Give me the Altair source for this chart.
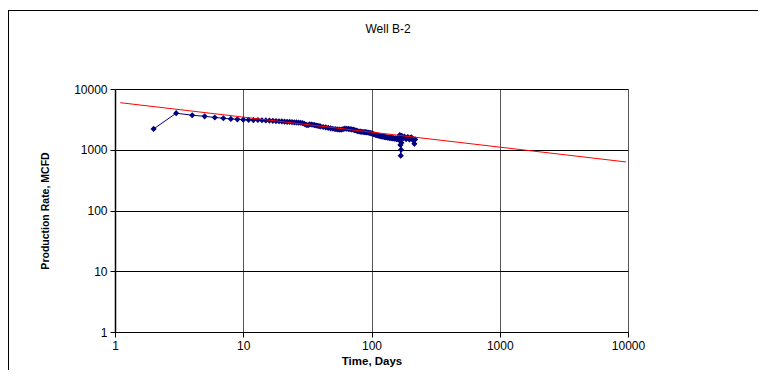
import altair as alt
import pandas as pd

# ---- data ----
days = [2, 3, 4, 5, 6, 7, 8, 9, 10,
        11, 12, 13, 14, 15, 16, 17, 18, 19, 20,
        21, 22, 23, 24, 25, 26, 27, 28, 29, 30,
        31, 32, 33, 34, 35, 36, 37, 38, 39, 40,
        42, 44, 46, 48, 50, 52, 54, 56, 58, 60,
        62, 64, 66, 68, 70, 72, 74, 76, 78, 80,
        82, 84, 86, 88, 90, 92, 94, 96, 98, 100,
        102, 104, 106, 108, 110, 112, 114, 116, 118, 120,
        122, 124, 126, 128, 130, 132, 134, 136, 138, 140,
        142, 144, 146, 148, 150, 152, 154, 156, 158, 160,
        162, 164, 165, 166, 167, 168, 169, 170, 171, 172,
        174, 177, 180, 183, 186, 189, 192, 195, 198, 201,
        204, 207, 210, 213, 216, 219]
rates = [2200, 4000, 3700, 3550, 3400, 3300, 3220, 3170, 3130,
         3110, 3080, 3090, 3060, 3040, 3020, 2990, 2960, 2950, 2930,
         2900, 2880, 2870, 2850, 2830, 2820, 2790, 2780, 2740, 2660,
         2560, 2540, 2620, 2600, 2580, 2550, 2510, 2480, 2450, 2420,
         2370, 2330, 2290, 2250, 2220, 2190, 2170, 2150, 2140, 2180,
         2230, 2220, 2200, 2190, 2170, 2140, 2100, 2060, 2030, 2000,
         1990, 1970, 1960, 1950, 1950, 1930, 1920, 1900, 1880, 1860,
         1840, 1800, 1780, 1760, 1740, 1720, 1700, 1690, 1670, 1660,
         1640, 1650, 1620, 1610, 1620, 1590, 1580, 1600, 1570, 1560,
         1580, 1550, 1540, 1560, 1530, 1520, 1540, 1510, 1500, 1530,
         1490, 1480, 1500, 1750, 1450, 1200, 800, 1000, 1300, 1700,
         1600, 1550, 1650, 1580, 1500, 1560, 1620, 1540, 1480, 1560,
         1600, 1520, 1450, 1480, 1250, 1480]

trend_days = [1.1, 9650]
trend_rates = [5950, 630]

axis_ticks = [1, 10, 100, 1000, 10000]
chart_title = "Well B-2"
x_title = "Time, Days"
y_title = "Production Rate, MCFD"

df = pd.DataFrame({"day": days, "rate": rates})
trend = pd.DataFrame({"day": trend_days, "rate": trend_rates})
one = pd.DataFrame({"t": [chart_title]})

FONT = "Liberation Sans, Arial, sans-serif"

x_scale = alt.Scale(type="log", domain=[1, 10000], nice=False)
y_scale = alt.Scale(type="log", domain=[1, 10000], nice=False)

x_axis = alt.Axis(values=axis_ticks, format="d", title=x_title, grid=True,
                  gridColor="#555555", gridWidth=1, domainColor="black",
                  tickColor="black", tickSize=5, labelFont=FONT, labelFontSize=12,
                  labelColor="black", labelPadding=3, labelFlush=False,
                  labelOverlap=False, titleFont=FONT, titleFontSize=11.5,
                  titleFontWeight="bold", titleColor="black", titleX=256.5,
                  titleY=32, titleBaseline="alphabetic", titleAlign="center")
y_axis = alt.Axis(values=axis_ticks, format="d", title=y_title, grid=True,
                  gridColor="black", gridWidth=1, domainColor="black",
                  domainWidth=1.5, tickColor="black", tickSize=5, labelFont=FONT,
                  labelFontSize=12, labelColor="black", labelPadding=3,
                  labelFlush=False, labelOverlap=False,
                  titleFont="Liberation Sans Narrow, Liberation Sans, Arial",
                  titleFontSize=10.5, titleFontWeight="bold", titleColor="black",
                  titleAngle=-90, titleX=-70, titleY=121.5, titleAlign="center",
                  titleBaseline="middle")

base = alt.Chart(df).encode(
    x=alt.X("day:Q", scale=x_scale, axis=x_axis),
    y=alt.Y("rate:Q", scale=y_scale, axis=y_axis),
)
line = base.mark_line(color="#000080", strokeWidth=1)
pts = base.mark_point(shape="diamond", filled=True, size=38, color="#000080", opacity=1)
trend_line = alt.Chart(trend).mark_line(color="#FF0000", strokeWidth=1).encode(
    x=alt.X("day:Q", scale=x_scale), y=alt.Y("rate:Q", scale=y_scale))

frame_top = alt.Chart(one).mark_rule(color="black", strokeWidth=1).encode(
    x=alt.value(-107), x2=alt.value(700), y=alt.value(-78.5))
frame_left = alt.Chart(one).mark_rule(color="black", strokeWidth=1).encode(
    x=alt.value(-106.5), y=alt.value(-79), y2=alt.value(320))
title_txt = alt.Chart(one).mark_text(font=FONT, fontSize=12, color="black",
                                     align="center", baseline="alphabetic").encode(
    text="t:N", x=alt.value(273), y=alt.value(-56))

chart = alt.layer(frame_top, frame_left, line, pts, trend_line, title_txt).properties(
    width=513, height=243,
    autosize=alt.AutoSizeParams(type="none"),
    padding={"left": 107, "top": 81, "right": 130, "bottom": 38},
    background="white",
).configure_view(strokeWidth=0)

chart.save("out.html", embed_options={"renderer": "svg", "actions": False})
